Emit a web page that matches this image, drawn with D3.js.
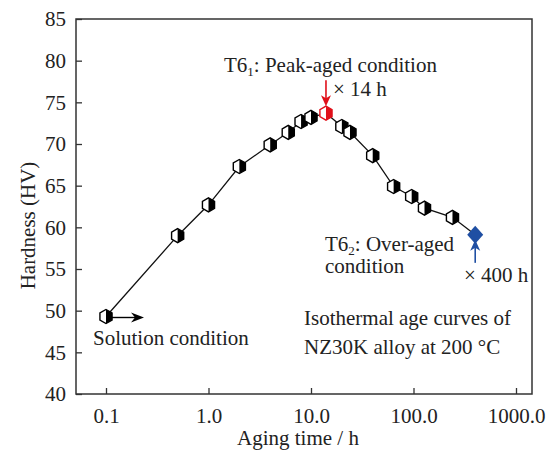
<!DOCTYPE html>
<html>
<head>
<meta charset="utf-8">
<script src="https://cdn.jsdelivr.net/npm/d3@7"></script>
<style>
  body { margin: 0; background: #fff; }
  text { font-family: "Liberation Serif", "Times New Roman", serif; fill: #222; }
</style>
</head>
<body>
<div id="chart"></div>
<script>
// aging time (h) and hardness (HV)
const times = [0.1, 0.5, 1, 2, 4, 6, 8, 10, 14, 20, 24, 40, 64, 96, 128, 240, 400];
const hardness = [49.3, 59.0, 62.7, 67.3, 69.9, 71.4, 72.7, 73.2, 73.7, 72.1, 71.4, 68.6, 64.9, 63.7, 62.3, 61.2, 59.1];
const xTicks = [0.1, 1, 10, 100, 1000];
const yTicks = [40, 45, 50, 55, 60, 65, 70, 75, 80, 85];
const peakTime = 14, overTime = 400;

const width = 547, height = 450, fs = 21;
const margin = {top: 19, right: 15, bottom: 56, left: 76},
	innerWidth = width - margin.left - margin.right,
	innerHeight = height - margin.top - margin.bottom;

const svg = d3.select('#chart').append('svg').attr('width', width).attr('height', height);
const g = svg.append('g').attr('transform', `translate(${margin.left},${margin.top})`);

// log x: 0.1 sits 30px in from the left, 1000 sits 16px in from the right
const decade = (innerWidth - 30 - 16) / 4;
const x = d3.scaleLog()
	.domain([0.1 / Math.pow(10, 30 / decade), 1000 * Math.pow(10, 16 / decade)])
	.range([0, innerWidth]);
const y = d3.scaleLinear().domain([40, 85]).range([innerHeight, 0]);

//axes, ticks pointing in
const xAxis = g.append('g').attr('transform', `translate(0,${innerHeight})`)
	.call(d3.axisBottom(x).tickValues(xTicks).tickFormat(d3.format('.1f')).tickSizeInner(-6).tickSizeOuter(0).tickPadding(14));
const yAxis = g.append('g')
	.call(d3.axisLeft(y).tickValues(yTicks).tickSizeInner(-6).tickSizeOuter(0).tickPadding(10));
[xAxis, yAxis].forEach(a => {
	a.selectAll('.domain').remove();
	a.selectAll('line').attr('stroke', '#333').attr('stroke-width', 1.3);
	a.selectAll('text').attr('font-size', fs).attr('fill', '#222');
});
xAxis.selectAll('text').attr('dy', '0.71em');

//frame
g.append('rect').attr('width', innerWidth).attr('height', innerHeight)
	.attr('fill', 'none').attr('stroke', '#333').attr('stroke-width', 1.5);

//axis titles
svg.append('text').attr('x', margin.left + innerWidth / 2 - 6).attr('y', 445)
	.attr('text-anchor', 'middle').attr('font-size', fs).text('Aging time / h');
svg.append('text').attr('transform', `translate(35,${margin.top + innerHeight / 2 + 19}) rotate(-90)`)
	.attr('text-anchor', 'middle').attr('font-size', fs).text('Hardness (HV)');

const pts = times.map((t, i) => ({t: t, h: hardness[i]}));

//connecting line
g.append('path').datum(pts)
	.attr('fill', 'none').attr('stroke', '#111').attr('stroke-width', 1.3)
	.attr('d', d3.line().x(d => x(d.t)).y(d => y(d.h)));

//half-filled hexagon markers
const r = 7, w = r * Math.cos(Math.PI / 6);
const hexPath = `M0,${-r}L${w},${-r / 2}L${w},${r / 2}L0,${r}L${-w},${r / 2}L${-w},${-r / 2}Z`;
const halfPath = `M0,${-r}L${w},${-r / 2}L${w},${r / 2}L0,${r}Z`;
const markers = g.append('g').selectAll('g')
	.data(pts.filter(d => d.t !== overTime))
	.enter().append('g')
	.attr('transform', d => `translate(${x(d.t)},${y(d.h)})`);
markers.append('path').attr('d', hexPath).attr('fill', '#fff')
	.attr('stroke', d => d.t === peakTime ? '#e0101a' : '#000').attr('stroke-width', 1.4);
markers.append('path').attr('d', halfPath)
	.attr('fill', d => d.t === peakTime ? '#e0101a' : '#000');

//over-aged diamond
const over = pts.find(d => d.t === overTime);
const blue = '#1f4fa3';
g.append('path').attr('transform', `translate(${x(over.t)},${y(over.h)})`)
	.attr('d', 'M0,-9L8,0L0,9L-8,0Z').attr('fill', blue);

//arrows
const peak = pts.find(d => d.t === peakTime);
const px = x(peak.t), py = y(peak.h);
g.append('line').attr('x1', px).attr('x2', px).attr('y1', py - 33).attr('y2', py - 12)
	.attr('stroke', '#e0101a').attr('stroke-width', 1.6);
g.append('path').attr('transform', `translate(${px},${py - 7})`)
	.attr('d', 'M0,0L-5,-11L0,-8L5,-11Z').attr('fill', '#e0101a');

const ox = x(over.t), oy = y(over.h);
g.append('line').attr('x1', ox).attr('x2', ox).attr('y1', oy + 28).attr('y2', oy + 10)
	.attr('stroke', blue).attr('stroke-width', 1.6);
g.append('path').attr('transform', `translate(${ox},${oy + 5})`)
	.attr('d', 'M0,0L-5,11L0,8L5,11Z').attr('fill', blue);

const sol = pts[0];
const sx = x(sol.t), sy = y(sol.h);
g.append('line').attr('x1', sx + 5).attr('x2', sx + 34).attr('y1', sy + 1).attr('y2', sy + 1)
	.attr('stroke', '#000').attr('stroke-width', 1.4);
g.append('path').attr('transform', `translate(${sx + 38},${sy + 1})`)
	.attr('d', 'M0,0L-13,-5L-9,0L-13,5Z').attr('fill', '#000');

//annotations
const t1 = svg.append('text').attr('x', 224).attr('y', 72).attr('font-size', fs);
t1.append('tspan').text('T6');
t1.append('tspan').attr('font-size', 13).attr('dy', 4).text('1');
t1.append('tspan').attr('dy', -4).text(': Peak-aged condition');
svg.append('text').attr('x', 333).attr('y', 96).attr('font-size', fs).text('× 14 h');

const t2 = svg.append('text').attr('x', 325).attr('y', 251).attr('font-size', fs);
t2.append('tspan').text('T6');
t2.append('tspan').attr('font-size', 13).attr('dy', 4).text('2');
t2.append('tspan').attr('dy', -4).text(': Over-aged');
svg.append('text').attr('x', 325).attr('y', 273).attr('font-size', fs).text('condition');
svg.append('text').attr('x', 464).attr('y', 282).attr('font-size', fs).text('× 400 h');

svg.append('text').attr('x', 304).attr('y', 325).attr('font-size', fs).text('Isothermal age curves of');
svg.append('text').attr('x', 304).attr('y', 354).attr('font-size', fs).text('NZ30K alloy at 200 °C');
svg.append('text').attr('x', 93).attr('y', 345).attr('font-size', fs).text('Solution condition');
</script>
</body>
</html>
